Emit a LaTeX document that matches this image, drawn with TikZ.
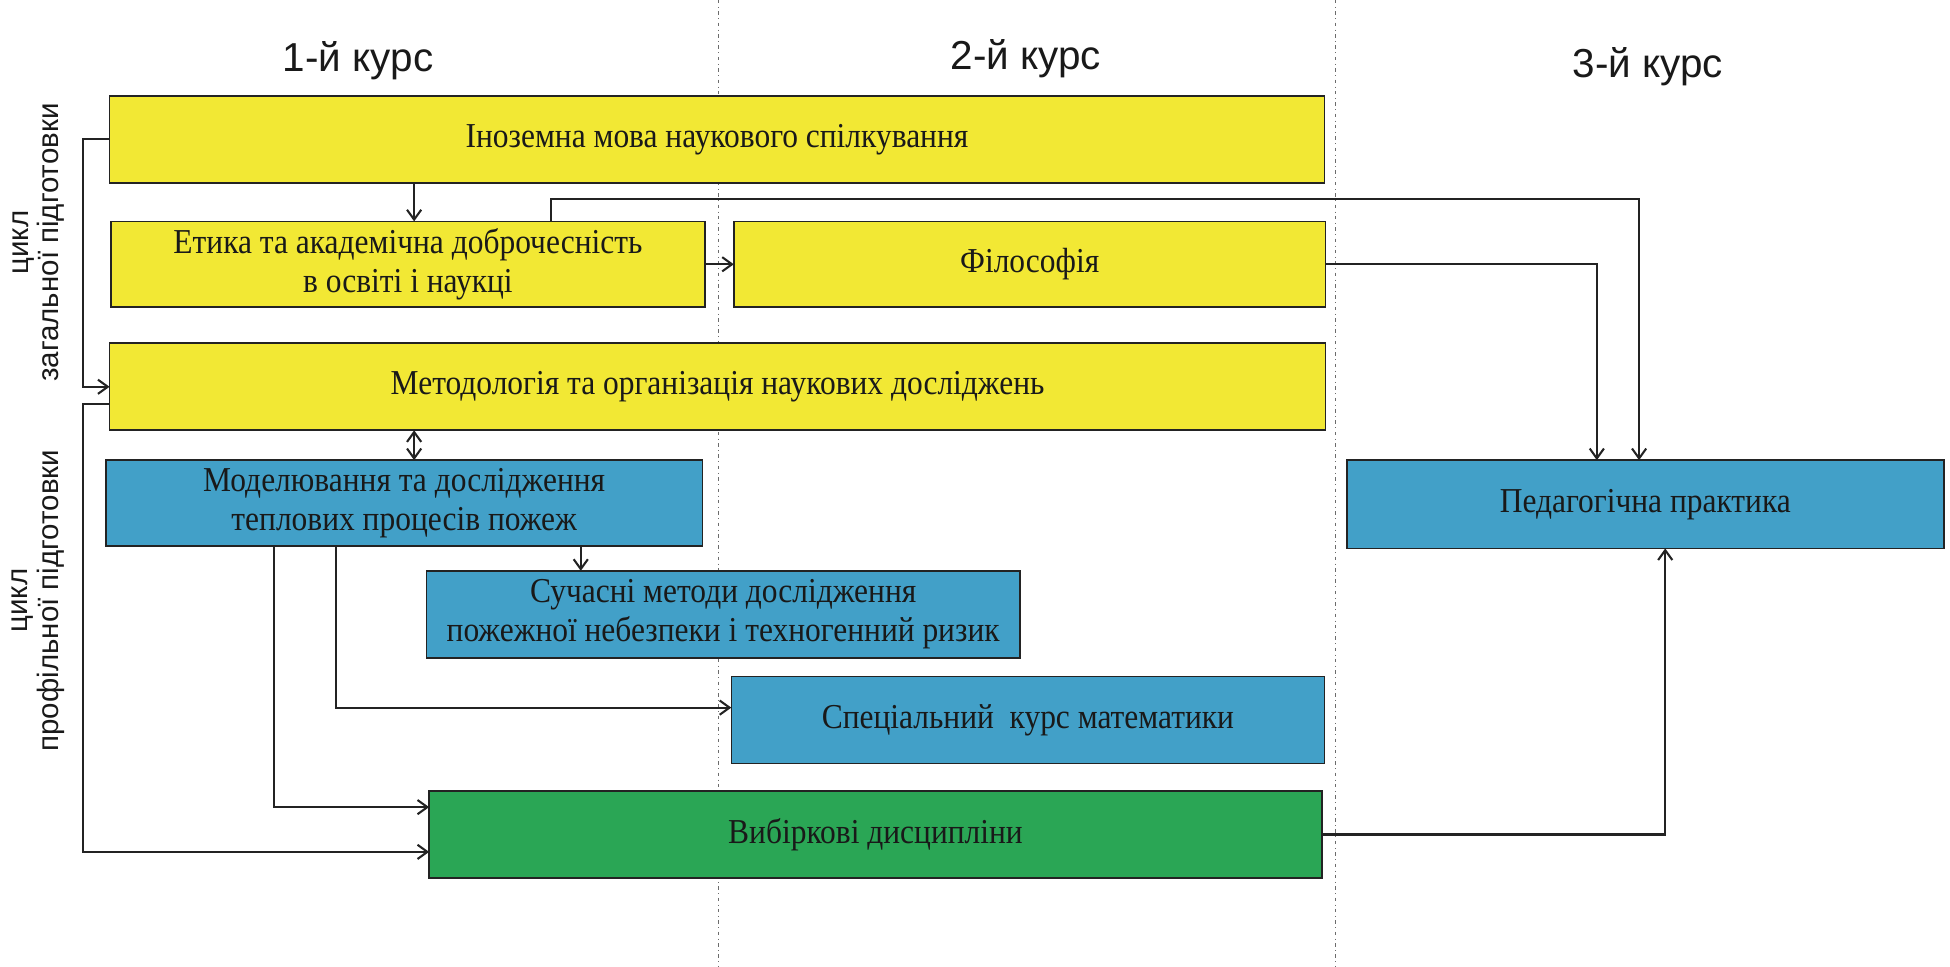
\documentclass[tikz,border=0pt]{standalone}
\usepackage{fontspec}
\setmainfont{Liberation Serif}
\newfontfamily\boxfont[FakeStretch=0.9]{Liberation Serif}
\newfontfamily\sansf{Liberation Sans}
\usetikzlibrary{arrows.meta,calc}
\definecolor{byellow}{RGB}{242,232,52}
\definecolor{bblue}{RGB}{66,160,200}
\definecolor{bgreen}{RGB}{42,166,85}
\definecolor{bline}{RGB}{35,35,35}
\begin{document}
\begin{tikzpicture}[x=0.02cm,y=-0.02cm,
  box/.style={draw=bline, line width=0.75pt, rectangle, inner sep=0pt, outer sep=0pt, align=center,
    font=\boxfont\fontsize{16}{17.6}\selectfont, text=black!90},
  ybox/.style={box, fill=byellow},
  bbox/.style={box, fill=bblue},
  gbox/.style={box, fill=bgreen},
  arr/.style={draw=bline, line width=0.95pt, -{Straight Barb[length=4.5pt,width=6.5pt]}},
  arrtwo/.style={draw=bline, line width=0.95pt, {Straight Barb[length=4.5pt,width=6.5pt]}-{Straight Barb[length=4.5pt,width=6.5pt]}},
  divider/.style={draw=gray!85!black, line width=0.5pt, dash pattern=on 1.6pt off 1.6pt on 0.4pt off 1.6pt},
  title/.style={font=\sansf\fontsize{18.5}{22}\selectfont, anchor=base, text=black!90},
  cyclelabel/.style={font=\sansf\fontsize{13.5}{14}\selectfont, rotate=90, align=center, text=black!90}
]
\useasboundingbox (0,0) rectangle (1568,777);

% column dividers
\draw[divider] (578,0) -- (578,777);
\draw[divider] (1074,0) -- (1074,777);

% titles
\node[title] (t1) at (288,57.6) {1-й курс};
\node[title] (t2) at (825,56) {2-й курс};
\node[title] (t3) at (1325,62) {3-й курс};

% cycle labels
\node[cyclelabel] (cyc1) at (31,195) {цикл\\загальної підготовки};
\node[cyclelabel] (cyc2) at (31,483) {цикл\\профільної підготовки};

% boxes
\node[ybox, minimum width=19.54cm, minimum height=1.4cm] (inoz) at (576.5,112) {Іноземна мова наукового спілкування};
\node[ybox, minimum width=9.56cm, minimum height=1.38cm] (etyka) at (328,212.5) {Етика та академічна доброчесність\\в освіті і наукці};
\node[ybox, minimum width=9.52cm, minimum height=1.38cm] (filos) at (828,212.5) {Філософія};
\node[ybox, minimum width=19.56cm, minimum height=1.4cm] (metod) at (577,311) {Методологія та організація наукових досліджень};
\node[bbox, minimum width=9.6cm, minimum height=1.38cm] (model) at (325,404.5) {Моделювання та дослідження\\теплових процесів пожеж};
\node[bbox, minimum width=9.54cm, minimum height=1.4cm] (suchas) at (581.5,494) {Сучасні методи дослідження\\пожежної небезпеки і техногенний ризик};
\node[bbox, minimum width=9.54cm, minimum height=1.4cm] (spets) at (826.5,579) {Спеціальний\ \ курс математики};
\node[gbox, minimum width=14.36cm, minimum height=1.4cm] (vybir) at (704,671) {Вибіркові дисципліни};
\node[bbox, minimum width=9.6cm, minimum height=1.42cm] (pedag) at (1323,405.5) {Педагогічна практика};

% connectors
\coordinate (c1) at (1318,160);
\draw[arr] (inoz.south -| 333,0) -- (etyka.north -| 333,0);
\draw[arr] (etyka.north -| 443,0) |- (c1) -- (c1 |- pedag.north);
\draw[arr] (etyka.east) -- (filos.west);
\draw[arr] (filos.east) -| (pedag.north -| 1284,0);
\draw[arr] (inoz.west) -- ++(-21,0) |- (metod.west);
\draw[arr] (metod.west |- 0,325) -- ++(-21,0) |- (vybir.west |- 0,685);
\draw[arrtwo] (metod.south -| 333,0) -- (model.north -| 333,0);
\draw[arr] (model.south -| 467,0) -- (suchas.north -| 467,0);
\draw[arr] (model.south -| 270,0) |- (spets.west |- 0,569);
\draw[arr] (model.south -| 220,0) |- (vybir.west |- 0,649);
\draw[arr] (vybir.east) -| (pedag.south -| 1339,0);
\end{tikzpicture}
\end{document}
